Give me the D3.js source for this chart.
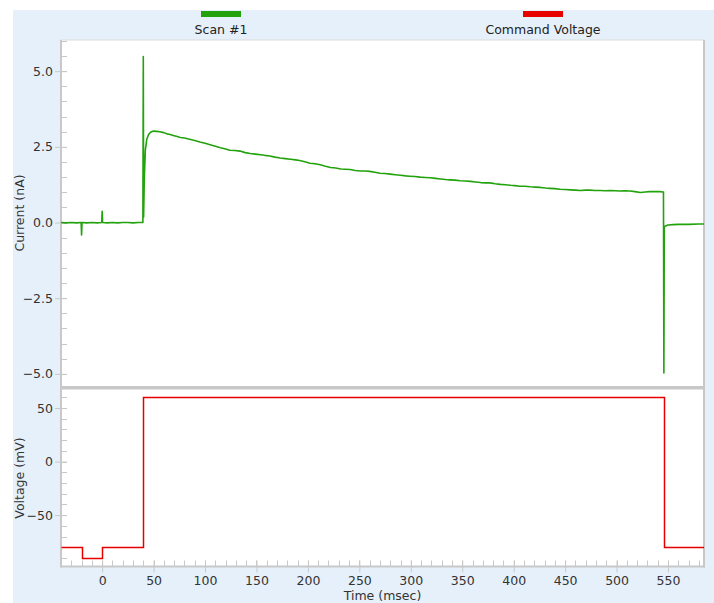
<!DOCTYPE html>
<html><head><meta charset="utf-8">
<script src="https://cdn.jsdelivr.net/npm/d3@7/dist/d3.min.js"></script>
<style>
html,body{margin:0;padding:0;background:#fff;}
svg{display:block;font-family:"DejaVu Sans",Verdana,sans-serif;}
</style></head><body>
<svg id="c" width="714" height="603"></svg>
<script>
// ---------- data ----------
const seriesNames = ["Scan #1", "Command Voltage"];
const seriesColors = ["#22a20c", "#e60000"];

const currentTime = [-40,-35,-30,-25,-20.4,-20,-19.6,-15,-10,-5,-0.4,0,0.4,5,10,15,20,25,30,35,39.6,
 40,40.3,41,42,43.4,45,47,50,53,56,60,63,66,70,73,76,80,85,90,95,100,105,110,115,120,124,129,134,139,144,149,154,158,163,168,173,178,183,188,192,197,202,207,212,217,222,227,232,236,241,246,251,256,260,265,270,275,280,285,290,295,299,304,309,314,319,324,329,334,338,343,348,353,358,363,368,373,377,382,387,392,397,401,406,411,416,421,426,431,435,440,445,450,455,460,465,470,474,479,484,489,494,499,503,508,513,518,523,528,532,537,542,545.6,
 546,546.4,547,550,555,560,570,580,585];
const currentValues = [0.00,-0.01,0.00,-0.01,0.00,-0.41,0.00,-0.01,0.00,-0.01,0.00,0.37,0.00,-0.01,0.00,-0.01,0.00,0.00,-0.01,0.00,0.00,
 5.48,0.18,1.50,2.40,2.75,2.90,2.98,3.02,3.01,3.00,2.97,2.93,2.91,2.87,2.84,2.81,2.79,2.75,2.71,2.66,2.62,2.57,2.52,2.47,2.43,2.39,2.38,2.36,2.31,2.28,2.26,2.24,2.22,2.20,2.16,2.13,2.11,2.09,2.07,2.05,2.01,1.96,1.94,1.91,1.86,1.82,1.80,1.77,1.76,1.75,1.72,1.70,1.70,1.69,1.66,1.63,1.62,1.60,1.58,1.56,1.54,1.53,1.52,1.50,1.49,1.48,1.46,1.44,1.42,1.41,1.40,1.38,1.37,1.36,1.34,1.32,1.31,1.31,1.28,1.26,1.25,1.23,1.22,1.20,1.20,1.18,1.17,1.16,1.14,1.13,1.12,1.10,1.09,1.08,1.07,1.06,1.07,1.07,1.06,1.06,1.05,1.06,1.05,1.04,1.05,1.04,1.02,0.99,1.01,1.02,1.02,1.02,1.01,
 -4.97,-0.15,-0.12,-0.08,-0.07,-0.06,-0.06,-0.05,-0.05];

const voltageTime   = [-40,-20,0,40,546,585];
const voltageValues = [-80,-90,-80,60,-80,-80];

const xTicks = [0,50,100,150,200,250,300,350,400,450,500,550];
const currentTicks = [5.0,2.5,0.0,-2.5,-5.0];
const voltageTicks = [50,0,-50];

// ---------- layout ----------
const svg = d3.select("#c");
const L = 61, R = 704, T1 = 40, B1 = 386, T2 = 389.5, B2 = 566.5;

svg.append("rect").attr("x",13).attr("y",10).attr("width",701).attr("height",593).attr("fill","#e6f0fa");
svg.append("rect").attr("x",L).attr("y",T1).attr("width",R-L).attr("height",B2-T1).attr("fill","#fff")
   .attr("stroke","#dcdcdc").attr("stroke-width",1);

const x = d3.scaleLinear().domain([-40,585]).range([L,R]);
const y1 = d3.scaleLinear().domain([-5.4,6.03]).range([B1,T1]);
const y2 = d3.scaleLinear().domain([-98,67.3]).range([B2,T2]);

const tickColor = "#c8c8c8", textColor = "#333";

function minorY(scale, dom, step){
  const g = svg.append("g");
  const vals = d3.range(Math.ceil(dom[0]/step)*step, dom[1]+1e-9, step);
  vals.forEach(v=>{
    const yy = Math.round(scale(v))+0.5;
    g.append("line").attr("x1",L).attr("x2",L+6).attr("y1",yy).attr("y2",yy)
      .attr("stroke",tickColor).attr("stroke-width",1);
  });
}
minorY(y1,[-5.4,6.03],0.5);
minorY(y2,[-98,67.3],10);

function yAxis(scale, ticks, fmt){
  const g = svg.append("g").attr("transform",`translate(${L},0)`)
    .call(d3.axisLeft(scale).tickValues(ticks).tickFormat(fmt).tickSize(6).tickSizeOuter(0));
  g.select(".domain").remove();
  g.selectAll(".tick line").attr("stroke",tickColor).attr("x2",-6).attr("x1",6);
  g.selectAll(".tick text").attr("fill",textColor).attr("font-size","12.5px")
    .attr("font-family","DejaVu Sans, Verdana, sans-serif").attr("x",-8);
}
yAxis(y1,currentTicks,d3.format(".1f"));
yAxis(y2,voltageTicks,d3.format("d"));

d3.range(-40,585,10).forEach(v=>{
  const xx = Math.round(x(v))+0.5;
  svg.append("line").attr("x1",xx).attr("x2",xx).attr("y1",B2).attr("y2",B2-6)
    .attr("stroke",tickColor).attr("stroke-width",1);
});
const gx = svg.append("g").attr("transform",`translate(0,${B2})`)
  .call(d3.axisBottom(x).tickValues(xTicks).tickFormat(d3.format("d")).tickSize(6).tickSizeOuter(0));
gx.select(".domain").remove();
gx.selectAll(".tick line").attr("stroke",tickColor).attr("y1",-6).attr("y2",6);
gx.selectAll(".tick text").attr("fill",textColor).attr("font-size","12.5px")
  .attr("font-family","DejaVu Sans, Verdana, sans-serif").attr("y",10);

svg.append("line").attr("x1",L).attr("x2",L).attr("y1",T1).attr("y2",B2+1).attr("stroke",tickColor).attr("stroke-width",2);
svg.append("line").attr("x1",L).attr("x2",R+1).attr("y1",B2).attr("y2",B2).attr("stroke",tickColor).attr("stroke-width",2);
svg.append("line").attr("x1",R).attr("x2",R).attr("y1",T1).attr("y2",B2+1).attr("stroke",tickColor).attr("stroke-width",2);
svg.append("rect").attr("x",L).attr("y",B1).attr("width",R-L+1).attr("height",T2-B1).attr("fill","#c8c8c8");

svg.append("clipPath").attr("id","cp1").append("rect").attr("x",L).attr("y",T1).attr("width",R-L).attr("height",B1-T1);
svg.append("clipPath").attr("id","cp2").append("rect").attr("x",L).attr("y",T2).attr("width",R-L).attr("height",B2-T2);

const curData = currentTime.map((t,i)=>[t,currentValues[i]]);
svg.append("path").attr("clip-path","url(#cp1)")
  .attr("d", d3.line().x(d=>x(d[0])).y(d=>y1(d[1]))(curData))
  .attr("fill","none").attr("stroke",seriesColors[0]).attr("stroke-width",1.6).attr("stroke-linejoin","round");

const volData = voltageTime.map((t,i)=>[t,voltageValues[i]]);
svg.append("path").attr("clip-path","url(#cp2)")
  .attr("d", d3.line().curve(d3.curveStepAfter).x(d=>Math.round(x(d[0]))+0.5).y(d=>Math.round(y2(d[1]))+0.5)(volData))
  .attr("fill","none").attr("stroke",seriesColors[1]).attr("stroke-width",1.5);

const tf = "DejaVu Sans, Verdana, sans-serif";
svg.append("text").attr("transform",`translate(24,${(T1+B1)/2}) rotate(-90)`).attr("text-anchor","middle")
  .attr("font-size","12.5px").attr("fill",textColor).attr("font-family",tf).text("Current (nA)");
svg.append("text").attr("transform",`translate(24,${(T2+B2)/2}) rotate(-90)`).attr("text-anchor","middle")
  .attr("font-size","12.5px").attr("fill",textColor).attr("font-family",tf).text("Voltage (mV)");
svg.append("text").attr("x",(L+R)/2).attr("y",600).attr("text-anchor","middle")
  .attr("font-size","12.5px").attr("fill",textColor).attr("font-family",tf).text("Time (msec)");

const legX = [221, 543];
seriesNames.forEach((n,i)=>{
  svg.append("rect").attr("x",legX[i]-20).attr("y",11).attr("width",40).attr("height",6).attr("fill",seriesColors[i]);
  svg.append("text").attr("x",legX[i]).attr("y",34).attr("text-anchor","middle")
    .attr("font-size","12.5px").attr("fill","#222").attr("font-family",tf).text(n);
});
</script>
</body></html>
